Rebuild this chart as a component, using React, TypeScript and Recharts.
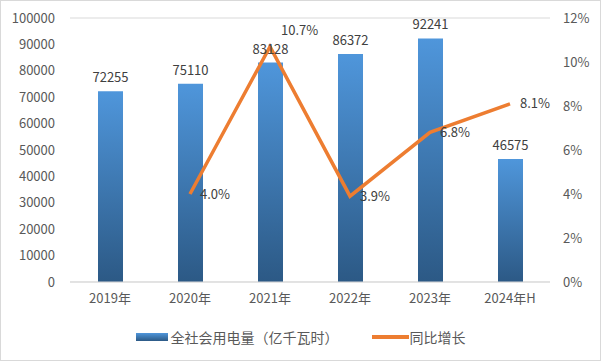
import { ComposedChart, Bar, Line, XAxis, YAxis, CartesianGrid, LabelList } from 'recharts';

const years = ['2019年', '2020年', '2021年', '2022年', '2023年', '2024年H'];
const consumption = [72255, 75110, 83128, 86372, 92241, 46575];
const growth = [null, 4.0, 10.7, 3.9, 6.8, 8.1];
const leftTicks = [0, 10000, 20000, 30000, 40000, 50000, 60000, 70000, 80000, 90000, 100000];
const rightTicks = [0, 2, 4, 6, 8, 10, 12];

const barName = '全社会用电量（亿千瓦时）';
const lineName = '同比增长';

const FONT = '"Noto Sans CJK SC", "Noto Sans", sans-serif';
const MARGIN = { top: 17, right: 0, bottom: 48, left: 0 };

// label to the right of each point; the 2021 peak sits up-right like the original
function GrowthLabel(props: any) {
  const { x, y, value } = props;
  if (value == null) return null;
  const high = value > 10;
  return (
    <text
      x={x + (high ? 11 : 10)}
      y={high ? y - 15 : y + 1}
      fill="#404040"
      fontSize={13}
      fontFamily={FONT}
      dominantBaseline="middle"
    >
      {`${Number(value).toFixed(1)}%`}
    </text>
  );
}

export default function App() {
  const data = years.map((year, i) => ({
    year,
    consumption: consumption[i],
    growth: growth[i],
  }));

  const axes = (showTicks: boolean) => [
    <XAxis
      key="x"
      dataKey="year"
      height={30}
      tickSize={0}
      tickMargin={12}
      axisLine={showTicks ? { stroke: '#D9D9D9' } : false}
      tick={showTicks ? { fontSize: 13, fill: '#595959', fontFamily: FONT } : false}
    />,
    <YAxis
      key="l"
      yAxisId="left"
      width={69}
      domain={[0, 100000]}
      ticks={leftTicks}
      interval={0}
      tickSize={0}
      tickMargin={15}
      axisLine={false}
      tick={showTicks ? { fontSize: 13, fill: '#595959', fontFamily: FONT } : false}
    />,
    <YAxis
      key="r"
      yAxisId="right"
      orientation="right"
      width={50}
      domain={[0, 12]}
      ticks={rightTicks}
      interval={0}
      tickSize={0}
      tickMargin={13}
      axisLine={false}
      tickFormatter={(v: number) => `${v}%`}
      tick={showTicks ? { fontSize: 13, fill: '#595959', fontFamily: FONT } : false}
    />,
  ];

  return (
    <div
      style={{
        position: 'absolute',
        left: 0,
        top: 0,
        width: 601,
        height: 361,
        boxSizing: 'border-box',
        border: '1px solid #D9D9D9',
        background: '#fff',
        fontFamily: FONT,
      }}
    >
      <ComposedChart width={599} height={359} data={data} margin={MARGIN}>
        <defs>
          <linearGradient id="barGrad" x1="0" y1="0" x2="0" y2="1">
            <stop offset="0%" stopColor="#4F96DB" />
            <stop offset="100%" stopColor="#2C5985" />
          </linearGradient>
        </defs>
        <CartesianGrid vertical={false} stroke="#D9D9D9" />
        {axes(true)}
        <Bar yAxisId="left" dataKey="consumption" name={barName} fill="url(#barGrad)" barSize={25} isAnimationActive={false} />
        <Line
          yAxisId="right"
          dataKey="growth"
          name={lineName}
          stroke="#ED7D31"
          strokeWidth={3.5}
          dot={false}
          activeDot={false}
          connectNulls={false}
          isAnimationActive={false}
        >
          <LabelList dataKey="growth" content={GrowthLabel} />
        </Line>
      </ComposedChart>

      {/* same layout on top, only to draw the bar values above the orange line */}
      <div style={{ position: 'absolute', left: 0, top: 0, pointerEvents: 'none' }}>
        <ComposedChart width={599} height={359} data={data} margin={MARGIN}>
          {axes(false)}
          <Bar yAxisId="left" dataKey="consumption" fill="transparent" barSize={25} isAnimationActive={false}>
            <LabelList
              dataKey="consumption"
              position="top"
              offset={9}
              fill="#404040"
              fontSize={13}
              fontFamily={FONT}
            />
          </Bar>
        </ComposedChart>
      </div>

      <div
        style={{
          position: 'absolute',
          left: 0,
          top: 326,
          width: 599,
          display: 'flex',
          justifyContent: 'center',
          alignItems: 'center',
          fontSize: 14,
          color: '#595959',
          lineHeight: '20px',
        }}
      >
        <span style={{ display: 'inline-block', width: 32, height: 8, background: 'linear-gradient(#4F96DB, #2C5985)', marginRight: 3 }} />
        <span>{barName}</span>
        <span style={{ display: 'inline-block', width: 37, height: 4, background: '#ED7D31', marginLeft: 33, marginRight: 1 }} />
        <span>{lineName}</span>
      </div>
    </div>
  );
}
